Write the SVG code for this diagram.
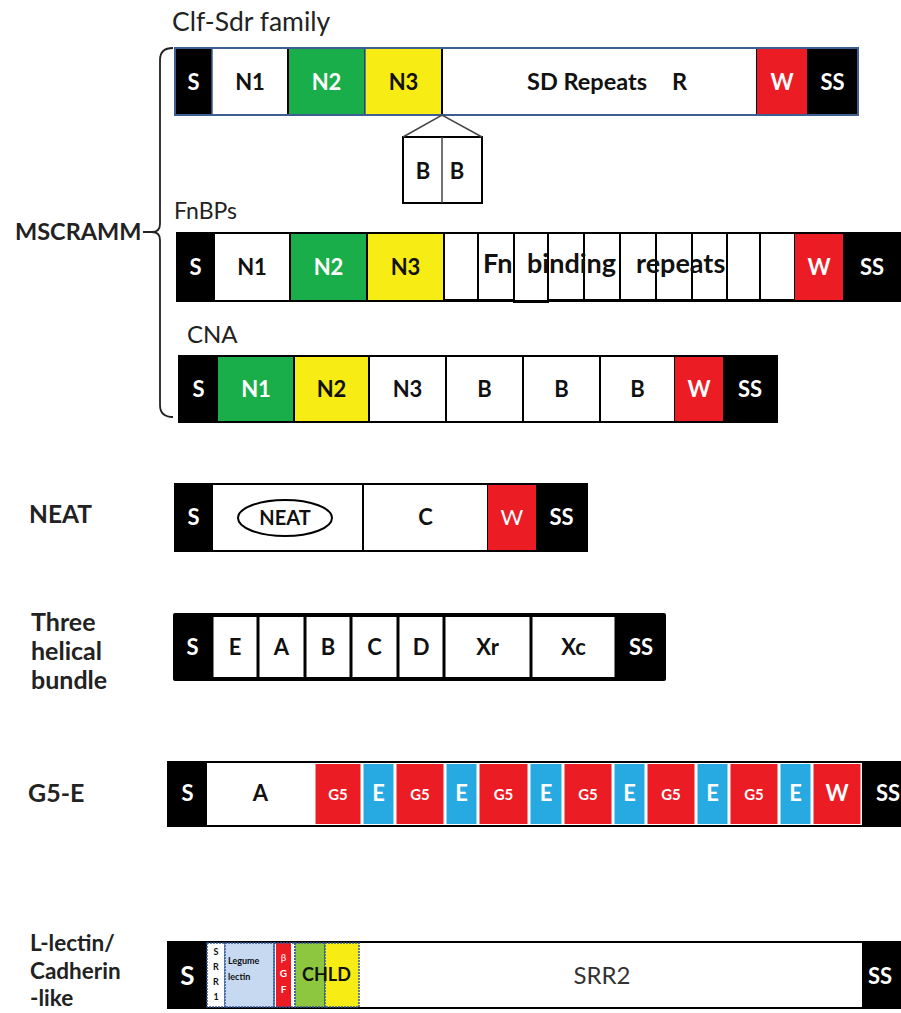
<svg xmlns="http://www.w3.org/2000/svg" width="901" height="1013" viewBox="0 0 901 1013">
<style>
.ttl{font-family:Lato,"Liberation Sans",sans-serif;font-size:23px;fill:#222}
.lbl{font-family:Lato,"Liberation Sans",sans-serif;font-weight:bold;font-size:22px;fill:#222}
.t{font-family:Lato,"Liberation Sans",sans-serif;font-weight:bold;font-size:22px;fill:#111;text-anchor:middle}
.w{fill:#fff}
.sm{font-size:15px}
.k{fill:#000}
.wh{fill:#fff;stroke:#000;stroke-width:2}
.bl{stroke:#3d5f91;stroke-width:1.5}
.ol{fill:none;stroke:#000;stroke-width:2}
.grn{fill:#1aae4a}
.yel{fill:#f7ec13}
.red{fill:#ec1c24}
.cy{fill:#27aae1}
.dot{stroke:#2e5597;stroke-width:1.5;stroke-dasharray:2 1}
.xs{font-size:9px}
</style>

<g id="mscramm">
<text class="lbl" x="15" y="240" style="font-size:23.5px">MSCRAMM</text>
<path d="M143,232 L152,232 M173,48 Q160,48 160,60 L160,224 Q160,232 152,232 Q160,232 160,240 L160,405 Q160,417 173,417" fill="none" stroke="#222" stroke-width="1.8"/>
</g>

<g id="clf-sdr">
<text class="ttl" x="172" y="31" style="font-size:26.5px">Clf-Sdr family</text>
<rect x="175" y="48" width="37" height="67" class="k"/>
<rect x="212" y="48" width="76" height="67" fill="#fff" class="bl"/>
<rect x="288" y="48" width="77" height="67" class="grn" stroke="#000" stroke-width="2"/>
<rect x="365" y="48" width="77" height="67" class="yel bl"/>
<rect x="442" y="48" width="315" height="67" class="wh"/>
<rect x="757" y="48" width="50" height="67" class="red"/>
<rect x="807" y="48" width="51" height="67" class="k"/>
<rect x="175" y="48" width="683" height="67" fill="none" stroke="#3d5f91" stroke-width="2"/>
<text class="t w" x="193.5" y="90">S</text>
<text class="t" x="250" y="90">N1</text>
<text class="t w" x="326.5" y="90">N2</text>
<text class="t" x="403.5" y="90">N3</text>
<text class="t" x="527" y="90" style="text-anchor:start;font-size:23.5px">SD Repeats<tspan x="672">R</tspan></text>
<text class="t w" x="782" y="90">W</text>
<text class="t w" x="832.5" y="90">SS</text>
</g>

<g id="bb-box">
<rect x="403" y="137" width="79" height="66" class="wh"/>
<line x1="442" y1="137" x2="442" y2="203" stroke="#444" stroke-width="1.5"/>
<text class="t" x="423" y="179">B</text>
<text class="t" x="457" y="179">B</text>
</g>

<g id="connectors">
<polyline points="403,137 442,115 482,137" fill="none" stroke="#444" stroke-width="1.5"/>
</g>

<g id="fnbps">
<text class="ttl" x="174" y="219">FnBPs</text>
<rect x="177" y="233" width="37" height="68" class="k"/>
<rect x="214" y="233" width="76" height="68" class="wh"/>
<rect x="290" y="233" width="77" height="68" class="grn" stroke="#000" stroke-width="2"/>
<rect x="367" y="233" width="77" height="68" class="yel" stroke="#000" stroke-width="2"/>
<rect x="444" y="233" width="34" height="67" class="wh"/>
<rect x="478" y="233" width="36" height="67" class="wh"/>
<rect x="514" y="233" width="34" height="69" class="wh"/>
<rect x="548" y="233" width="36" height="67" class="wh"/>
<rect x="584" y="233" width="36" height="67" class="wh"/>
<rect x="620" y="233" width="36" height="67" class="wh"/>
<rect x="656" y="233" width="36" height="67" class="wh"/>
<rect x="692" y="233" width="35" height="67" class="wh"/>
<rect x="727" y="233" width="33" height="67" class="wh"/>
<rect x="760" y="233" width="35" height="67" class="wh"/>
<rect x="795" y="233" width="48" height="68" class="red"/>
<rect x="843" y="233" width="58" height="68" class="k"/>
<rect x="177" y="233" width="724" height="68" class="ol"/>
<text class="t w" x="195.5" y="275">S</text>
<text class="t" x="252" y="275">N1</text>
<text class="t w" x="328.5" y="275">N2</text>
<text class="t" x="405.5" y="275">N3</text>
<text class="t" x="483" y="273" style="text-anchor:start;font-size:27px">Fn<tspan x="527">binding</tspan><tspan x="636">repeats</tspan></text>
<text class="t w" x="819" y="275">W</text>
<text class="t w" x="872" y="275">SS</text>
</g>

<g id="cna">
<text class="ttl" x="187" y="343" style="font-size:24px">CNA</text>
<rect x="179" y="356" width="39" height="66" class="k"/>
<rect x="218" y="356" width="76" height="66" class="grn"/>
<rect x="294" y="356" width="75" height="66" class="yel" stroke="#000" stroke-width="2"/>
<rect x="369" y="356" width="77" height="66" class="wh"/>
<rect x="446" y="356" width="77" height="66" class="wh"/>
<rect x="523" y="356" width="77" height="66" class="wh"/>
<rect x="600" y="356" width="75" height="66" class="wh"/>
<rect x="675" y="356" width="48" height="66" class="red"/>
<rect x="723" y="356" width="54" height="66" class="k"/>
<rect x="179" y="356" width="598" height="66" class="ol"/>
<text class="t w" x="198.5" y="397">S</text>
<text class="t w" x="256" y="397">N1</text>
<text class="t" x="331.5" y="397">N2</text>
<text class="t" x="407.5" y="397">N3</text>
<text class="t" x="484.5" y="397">B</text>
<text class="t" x="561.5" y="397">B</text>
<text class="t" x="637.5" y="397">B</text>
<text class="t w" x="699" y="397">W</text>
<text class="t w" x="750" y="397">SS</text>
</g>

<g id="neat">
<text class="lbl" x="29" y="523" style="font-size:24.5px">NEAT</text>
<rect x="175" y="484" width="37" height="67" class="k"/>
<rect x="212" y="484" width="151" height="67" class="wh"/>
<rect x="363" y="484" width="125" height="67" class="wh"/>
<rect x="488" y="484" width="48" height="67" class="red"/>
<rect x="536" y="484" width="51" height="67" class="k"/>
<rect x="175" y="484" width="412" height="67" class="ol"/>
<ellipse cx="285" cy="518" rx="47" ry="18" fill="none" stroke="#000" stroke-width="2"/>
<text class="t w" x="193.5" y="525">S</text>
<text class="t" x="285" y="525" style="font-size:20px">NEAT</text>
<text class="t" x="425.5" y="525">C</text>
<text class="t w" x="512" y="525" style="font-weight:normal">W</text>
<text class="t w" x="561.5" y="525">SS</text>
</g>

<g id="three-helical-bundle">
<text class="lbl" x="31" y="631" style="font-size:25px">Three</text>
<text class="lbl" x="31" y="660" style="font-size:25px">helical</text>
<text class="lbl" x="31" y="689" style="font-size:25px">bundle</text>
<rect x="173" y="613" width="493" height="68" rx="2" class="k"/>
<rect x="213.5" y="617" width="43" height="60" fill="#fff"/>
<rect x="259.5" y="617" width="44" height="60" fill="#fff"/>
<rect x="306.5" y="617" width="43" height="60" fill="#fff"/>
<rect x="352.5" y="617" width="44" height="60" fill="#fff"/>
<rect x="399.5" y="617" width="43" height="60" fill="#fff"/>
<rect x="445.5" y="617" width="84" height="60" fill="#fff"/>
<rect x="532.5" y="617" width="82" height="60" fill="#fff"/>
<text class="t w" x="192.5" y="655">S</text>
<text class="t" x="235" y="655">E</text>
<text class="t" x="281.5" y="655">A</text>
<text class="t" x="328" y="655">B</text>
<text class="t" x="374.5" y="655">C</text>
<text class="t" x="421" y="655">D</text>
<text class="t" x="487.5" y="655">Xr</text>
<text class="t" x="573.5" y="655">Xc</text>
<text class="t w" x="641" y="655">SS</text>
</g>

<g id="g5-e">
<text class="lbl" x="28" y="802" style="font-size:25px">G5-E</text>
<rect x="168" y="762" width="733" height="64" class="wh"/>
<rect x="168" y="762" width="39" height="64" class="k"/>
<rect x="862" y="762" width="39" height="64" class="k"/>
<rect x="315.5" y="764" width="45" height="60" class="red"/>
<rect x="363.5" y="764" width="30" height="60" class="cy"/>
<rect x="396.5" y="764" width="47" height="60" class="red"/>
<rect x="446.5" y="764" width="30" height="60" class="cy"/>
<rect x="479.5" y="764" width="48" height="60" class="red"/>
<rect x="530.5" y="764" width="31" height="60" class="cy"/>
<rect x="564.5" y="764" width="47" height="60" class="red"/>
<rect x="614.5" y="764" width="30" height="60" class="cy"/>
<rect x="647.5" y="764" width="47" height="60" class="red"/>
<rect x="697.5" y="764" width="30" height="60" class="cy"/>
<rect x="730.5" y="764" width="47" height="60" class="red"/>
<rect x="780.5" y="764" width="30" height="60" class="cy"/>
<rect x="813.5" y="764" width="47" height="60" class="red"/>
<text class="t w" x="187.5" y="801">S</text>
<text class="t" x="260.5" y="801">A</text>
<text class="t w sm" x="338" y="800">G5</text>
<text class="t w" x="378.5" y="801">E</text>
<text class="t w sm" x="420" y="800">G5</text>
<text class="t w" x="461.5" y="801">E</text>
<text class="t w sm" x="503.5" y="800">G5</text>
<text class="t w" x="546" y="801">E</text>
<text class="t w sm" x="588" y="800">G5</text>
<text class="t w" x="629.5" y="801">E</text>
<text class="t w sm" x="671" y="800">G5</text>
<text class="t w" x="712.5" y="801">E</text>
<text class="t w sm" x="754" y="800">G5</text>
<text class="t w" x="795.5" y="801">E</text>
<text class="t w" x="837" y="801">W</text>
<text class="t w" x="876" y="801" style="text-anchor:start">SS</text>
</g>

<g id="l-lectin-cadherin-like">
<text class="lbl" x="30" y="951" style="font-size:22.5px">L-lectin/</text>
<text class="lbl" x="30" y="979" style="font-size:22.5px">Cadherin</text>
<text class="lbl" x="30" y="1006" style="font-size:22.5px">-like</text>
<rect x="168" y="942" width="733" height="66" class="wh"/>
<rect x="168" y="942" width="39" height="66" class="k"/>
<rect x="207" y="943" width="18" height="64" fill="#fff" class="dot"/>
<rect x="225" y="943" width="49" height="64" fill="#c6d9f0" class="dot"/>
<rect x="276" y="943" width="15" height="64" class="red"/>
<rect x="274" y="943" width="21" height="64" fill="none" class="dot"/>
<rect x="295" y="943" width="30" height="64" fill="#8dc63f" class="dot"/>
<rect x="325" y="943" width="34" height="64" class="yel dot"/>
<rect x="862" y="942" width="39" height="66" class="k"/>
<text class="t w" x="187.5" y="985" style="font-size:26px">S</text>
<text class="t xs" x="216" y="955">S</text>
<text class="t xs" x="216" y="970">R</text>
<text class="t xs" x="216" y="985">R</text>
<text class="t xs" x="216" y="1000">1</text>
<text class="t xs" x="228" y="964" style="text-anchor:start">Legume</text>
<text class="t xs" x="228" y="980" style="text-anchor:start">lectin</text>
<text class="t w" x="283.5" y="961" style="font-size:10px;font-weight:normal">β</text>
<text class="t w" x="283.5" y="977" style="font-size:10px">G</text>
<text class="t w" x="283.5" y="993" style="font-size:10px">F</text>
<text class="t" x="302" y="981" style="font-size:18px;text-anchor:start">CHLD</text>
<text class="t" x="602" y="984" style="font-weight:normal;font-size:24px;fill:#333">SRR2</text>
<text class="t w" x="868" y="984" style="text-anchor:start">SS</text>
</g>
</svg>
